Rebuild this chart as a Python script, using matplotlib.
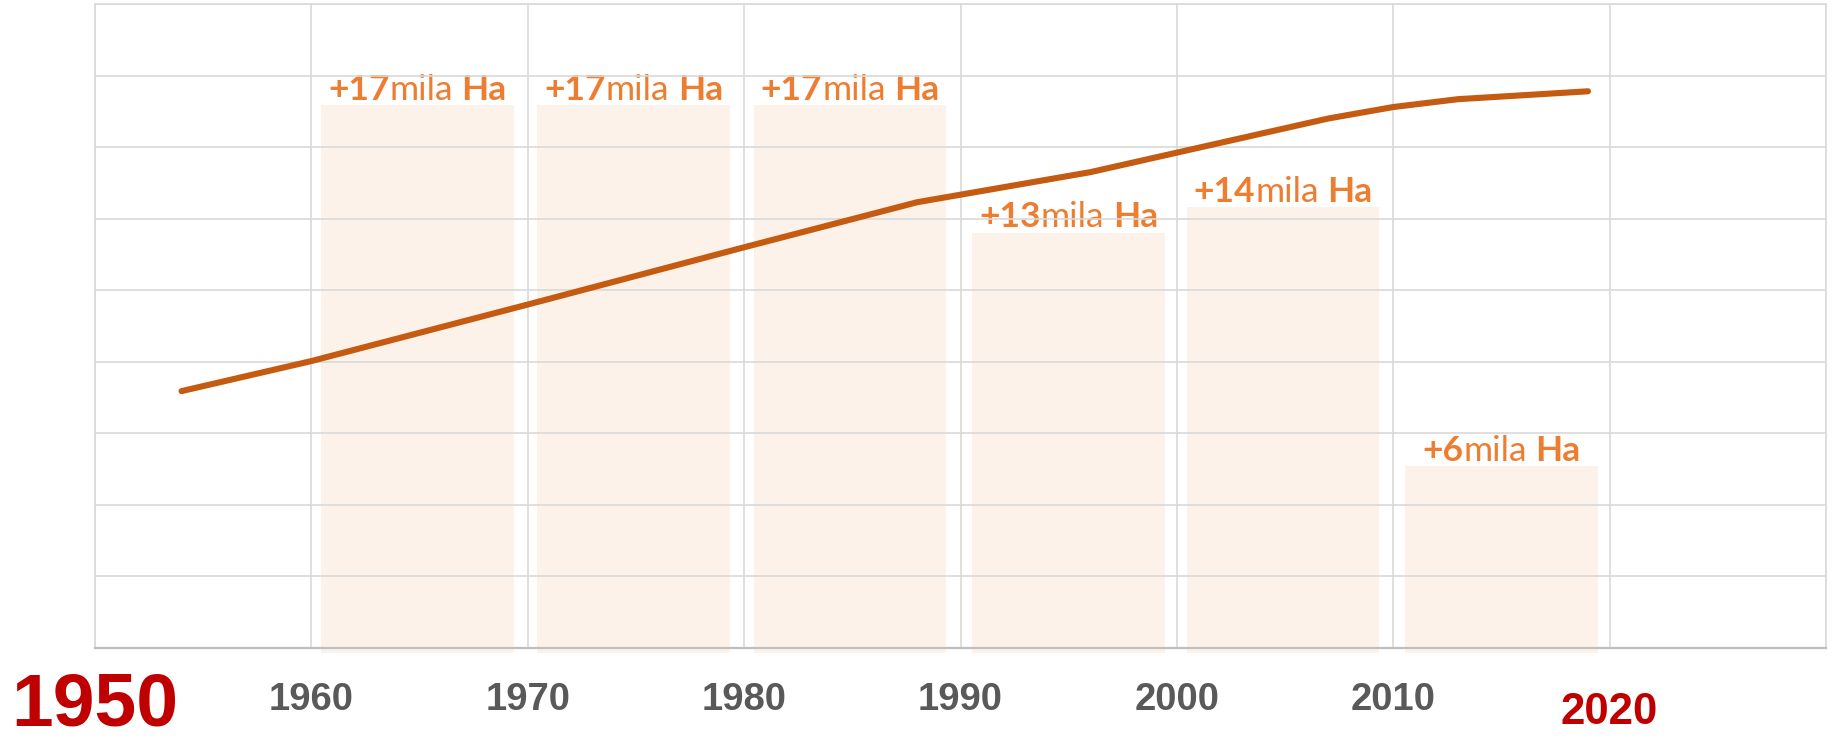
import matplotlib.pyplot as plt
from matplotlib.offsetbox import TextArea, HPacker, AnnotationBbox

# line: total area (grid units)
line_years = [1954, 1960, 1970, 1980, 1988, 1996, 2007, 2010, 2013, 2019]
line_vals = [3.59, 4.01, 4.80, 5.60, 6.23, 6.65, 7.40, 7.56, 7.67, 7.78]

# bars: increase per decade (mila Ha)
bar_centers = [1964.9, 1974.9, 1984.9, 1995.0, 2004.9, 2015.0]
bar_vals = [17, 17, 17, 13, 13.8, 5.7]
bar_labels = ['17', '17', '17', '13', '14', '6']

# year labels under the axis
tick_years = [1950, 1960, 1970, 1980, 1990, 2000, 2010, 2020]
tick_colors = ['#C00000'] + ['#595959'] * 6 + ['#C00000']
tick_sizes = [54] + [27.5] * 6 + [31.5]
tick_drop = [56] + [44.6] * 6 + [54.7]  # baseline below axis, points

orange = '#ED7D31'
grid_c = '#D9D9D9'

fig = plt.figure(figsize=(18.32, 7.42), dpi=100)
ax = fig.add_axes([95 / 1832, 1 - 648 / 742, 1731 / 1832, 644 / 742])
ax2 = ax.twinx()
ax2.set_zorder(ax.get_zorder() - 1)
ax.patch.set_visible(False)

# bars (behind)
ax2.set_ylim(0, 17 * 9 / 7.59)
ext = 0.16
ax2.bar(bar_centers, [v + ext for v in bar_vals], bottom=-ext, width=8.9,
        color='#FDF2EA', clip_on=False, zorder=1)
for sp in ax2.spines.values():
    sp.set_visible(False)
ax2.set_yticks([])

for c, v, lab in zip(bar_centers, bar_vals, bar_labels):
    bold = dict(color=orange, fontsize=25.5, fontfamily='Lato', fontweight='bold')
    reg = dict(color=orange, fontsize=25.5, fontfamily='Lato')
    first = HPacker(children=[TextArea('+' + lab, textprops=bold),
                              TextArea('mila', textprops=reg)],
                    align='baseline', pad=0, sep=0)
    box = HPacker(children=[first, TextArea('Ha', textprops=bold)],
                  align='baseline', pad=0, sep=6)
    ab = AnnotationBbox(box, (c, v), xycoords='data', box_alignment=(0.5, 0.02),
                        frameon=False, pad=0, annotation_clip=False)
    ax2.add_artist(ab)

# line (front)
ax.plot(line_years, line_vals, color='#C55A11', lw=4.4, solid_capstyle='round', zorder=3)

ax.set_xlim(1950, 2030)
ax.set_ylim(0, 9)
ax.set_xticks(range(1950, 2031, 10))
ax.set_yticks(range(0, 10))
ax.grid(True, color=grid_c, lw=1.2)
ax.tick_params(length=0, labelbottom=False, labelleft=False, labelright=False)
ax2.tick_params(length=0, labelright=False)
for sp in ax.spines.values():
    sp.set_color(grid_c)
    sp.set_linewidth(1.2)
ax.spines['bottom'].set_color('#BFBFBF')
ax.spines['bottom'].set_linewidth(1.6)

for yr, col, fs, dy in zip(tick_years, tick_colors, tick_sizes, tick_drop):
    ax.annotate(str(yr), xy=(yr, 0), xycoords=('data', 'axes fraction'),
                xytext=(0, -dy), textcoords='offset points', ha='center', va='baseline',
                color=col, fontsize=fs, fontweight='bold', fontfamily='Liberation Sans',
                annotation_clip=False)

fig.savefig('out.png', dpi=100)
